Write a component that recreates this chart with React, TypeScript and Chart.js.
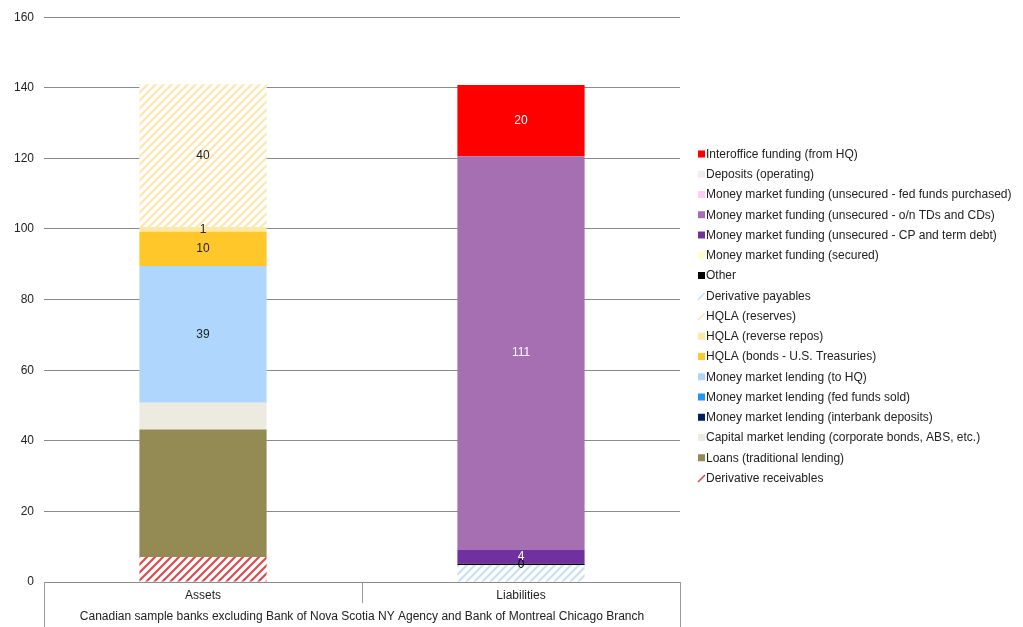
import React, { useEffect, useRef } from 'react';
import { Chart, registerables } from 'chart.js';

Chart.register(...registerables);

// ---- Data (bottom of stack first) ----
const categories = ['Assets', 'Liabilities'];
const groupLabel =
  'Canadian sample banks excluding Bank of Nova Scotia NY Agency and Bank of Montreal Chicago Branch';

const seriesNames = [
  'Derivative receivables',
  'Loans (traditional lending)',
  'Capital market lending (corporate bonds, ABS, etc.)',
  'Money market lending (interbank deposits)',
  'Money market lending (fed funds sold)',
  'Money market lending (to HQ)',
  'HQLA (bonds - U.S. Treasuries)',
  'HQLA (reverse repos)',
  'HQLA (reserves)',
  'Derivative payables',
  'Other',
  'Money market funding (secured)',
  'Money market funding (unsecured - CP and term debt)',
  'Money market funding (unsecured - o/n TDs and CDs)',
  'Money market funding (unsecured - fed funds purchased)',
  'Deposits (operating)',
  'Interoffice funding (from HQ)',
];

const assetsValues = [7.1, 36.1, 7.6, 0, 0, 38.7, 9.7, 1.4, 40.4, 0, 0, 0, 0, 0, 0, 0, 0];
const liabilitiesValues = [0, 0, 0, 0, 0, 0, 0, 0, 0, 4.8, 0.4, 0, 4.0, 111.4, 0, 0, 20.2];

const seriesColors = [
  '#e04a4a', '#948a54', '#edeae0', '#002060', '#2196f3', '#afd7fd', '#ffc729', '#ffe8a3',
  '#fce6b0', '#c6e0f8', '#000000', '#ffffcc', '#7030a0', '#a66fb1', '#ffccf5', '#eeeeee', '#ff0000',
];
const seriesHatched = [
  true, false, false, false, false, false, false, false,
  true, true, false, false, false, false, false, false, false,
];
const labelColors: (string | null)[] = [
  null, null, null, null, null, '#222222', '#222222', '#222222',
  '#222222', null, '#000000', null, '#ffffff', '#ffffff', null, null, '#ffffff',
];

const yMin = 0;
const yMax = 160;
const yStep = 20;

const FONT = '"Liberation Sans", Arial, sans-serif';
const FS = 12;

function makeHatch(color: string): CanvasPattern | string {
  const c = document.createElement('canvas');
  c.width = 8;
  c.height = 8;
  const g = c.getContext('2d');
  if (!g) return color;
  g.fillStyle = '#ffffff';
  g.fillRect(0, 0, 8, 8);
  g.strokeStyle = color;
  g.lineWidth = 2.2;
  g.beginPath();
  g.moveTo(-2, 10);
  g.lineTo(10, -2);
  g.moveTo(-2, 2);
  g.lineTo(2, -2);
  g.moveTo(6, 10);
  g.lineTo(10, 6);
  g.stroke();
  const p = g.createPattern(c, 'repeat');
  return p || color;
}

export default function App() {
  const ref = useRef<HTMLCanvasElement | null>(null);

  useEffect(() => {
    document.body.style.margin = '0';
    const canvas = ref.current;
    if (!canvas) return;

    const datasets = seriesNames.map((name, i) => ({
      label: name,
      data: [assetsValues[i], liabilitiesValues[i]],
      backgroundColor: seriesHatched[i] ? makeHatch(seriesColors[i]) : seriesColors[i],
      borderWidth: 0,
      categoryPercentage: 0.8,
      barPercentage: 0.5,
    }));

    const labelPlugin = {
      id: 'segLabels',
      afterDatasetsDraw(chart: any) {
        const ctx = chart.ctx;
        ctx.save();
        ctx.font = `${FS}px ${FONT}`;
        ctx.textAlign = 'center';
        ctx.textBaseline = 'middle';
        chart.data.datasets.forEach((ds: any, i: number) => {
          const col = labelColors[i];
          if (!col) return;
          const meta = chart.getDatasetMeta(i);
          ds.data.forEach((v: number, j: number) => {
            if (!v) return;
            const el: any = meta.data[j];
            const y = (el.y + el.base) / 2;
            ctx.fillStyle = col;
            ctx.fillText(String(Math.round(v)), el.x, y);
          });
        });
        ctx.restore();
      },
    };

    const decorPlugin = {
      id: 'decor',
      afterDraw(chart: any) {
        const ctx = chart.ctx;
        const area = chart.chartArea;
        const xs = chart.scales.x;
        const H = chart.height;
        ctx.save();
        // category separators below the axis
        ctx.strokeStyle = '#9a9a9a';
        ctx.lineWidth = 1;
        ctx.beginPath();
        const l = Math.round(area.left) + 0.5;
        const r = Math.round(area.right) + 0.5;
        ctx.moveTo(l, area.bottom);
        ctx.lineTo(l, H);
        ctx.moveTo(r, area.bottom);
        ctx.lineTo(r, H);
        for (let k = 0; k < categories.length - 1; k++) {
          const m = Math.round((xs.getPixelForValue(k) + xs.getPixelForValue(k + 1)) / 2) + 0.5;
          ctx.moveTo(m, area.bottom);
          ctx.lineTo(m, area.bottom + 21);
        }
        ctx.stroke();
        // group label
        ctx.fillStyle = '#222222';
        ctx.font = `${FS}px ${FONT}`;
        ctx.textAlign = 'center';
        ctx.textBaseline = 'middle';
        ctx.fillText(groupLabel, (area.left + area.right) / 2, area.bottom + 35);

        // legend (top of stack first)
        const lx = area.right + 18;
        let ly = 154;
        ctx.textAlign = 'left';
        for (let i = seriesNames.length - 1; i >= 0; i--) {
          if (seriesHatched[i]) {
            ctx.strokeStyle = seriesColors[i];
            ctx.lineWidth = 1.6;
            ctx.beginPath();
            ctx.moveTo(lx, ly + 4);
            ctx.lineTo(lx + 7, ly - 3);
            ctx.stroke();
          } else {
            ctx.fillStyle = seriesColors[i];
            ctx.fillRect(lx, ly - 3.5, 7, 7);
          }
          ctx.fillStyle = '#222222';
          ctx.fillText(seriesNames[i], lx + 8, ly + 0.5);
          ly += 20.25;
        }
        ctx.restore();
      },
    };

    const chart = new Chart(canvas, {
      type: 'bar',
      data: { labels: categories, datasets },
      options: {
        responsive: false,
        animation: false,
        layout: { padding: { top: 11, right: 343, bottom: 0, left: 0 } },
        plugins: {
          legend: { display: false },
          tooltip: { enabled: false },
        },
        scales: {
          x: {
            stacked: true,
            grid: { display: false, drawTicks: false },
            border: { display: false },
            ticks: { padding: 6, color: '#222222', font: { family: FONT, size: FS } },
            afterFit(scale: any) {
              scale.height = 45;
            },
          },
          y: {
            stacked: true,
            min: yMin,
            max: yMax,
            grid: { color: '#8a8a8a', drawTicks: false, lineWidth: 1 },
            border: { display: false },
            ticks: {
              stepSize: yStep,
              padding: 10,
              color: '#222222',
              font: { family: FONT, size: FS },
            },
            afterFit(scale: any) {
              scale.width = 44;
            },
          },
        },
      },
      plugins: [labelPlugin, decorPlugin],
    });

    return () => chart.destroy();
  }, []);

  return (
    <div style={{ width: 1023, height: 627, background: '#ffffff' }}>
      <canvas ref={ref} width={1023} height={627} />
    </div>
  );
}
